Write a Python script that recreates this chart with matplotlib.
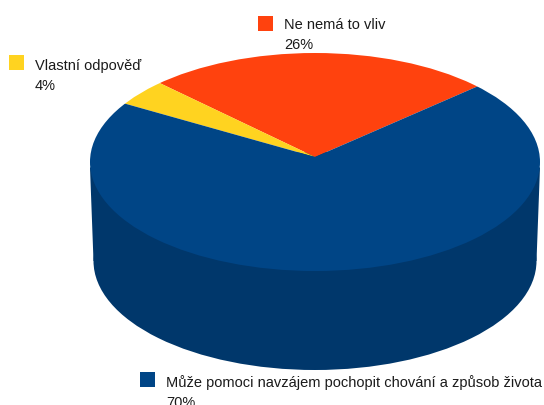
import matplotlib
matplotlib.use("Agg")
import matplotlib.pyplot as plt
from matplotlib.patches import Ellipse, Rectangle

labels = ["Ne nemá to vliv", "Vlastní odpověď", "Může pomoci navzájem pochopit chování a způsob života"]
values = [26, 4, 70]
colors = ["#ff420e", "#ffd320", "#004586"]
side_color = "#00376b"
pct_labels = ["26%", "4%", "70%"]

plt.rcParams['font.family'] = ['Liberation Sans', 'DejaVu Sans']

fig = plt.figure(figsize=(5.44, 4.05), dpi=100)

# pie axes: 1 unit = 225 px across, 109 px up, origin on the apex
rx, ry = 225.0, 109.0
ax0, ay0 = 315.0, 157.0
ax = fig.add_axes([0, 0, 1, 1])
wedges, _ = ax.pie(values, colors=colors, startangle=41.9, radius=1.4, center=(0, 0))
ax.set_aspect('auto')
ax.set_xlim(-ax0 / rx, (544 - ax0) / rx)
ax.set_ylim(-(405 - ay0) / ry, ay0 / ry)
ax.axis('off')

# top face, the wedges are cut by the rim ellipse
rim_y = -5 / ry
rim = Ellipse((0, rim_y), 2, 2, facecolor='none', edgecolor='none', transform=ax.transData)
ax.add_patch(rim)
for w in wedges:
    w.set_clip_on(True)
    w.set_clip_path(rim)
    w.set_zorder(3)

# side wall, slightly narrower at the bottom (perspective)
depth = 99 / ry
low = 221.5 / rx
ax.add_patch(Ellipse((0, rim_y - depth), 2 * low, 2, facecolor=side_color, edgecolor='none', zorder=1))
ax.fill([-1, 1, low, -low], [rim_y - 0.05, rim_y - 0.05, rim_y - depth, rim_y - depth],
        color=side_color, lw=0, zorder=1)

# legend squares and labels, placed in pixels
def px(x, y):
    return x / 544, 1 - y / 405

square_pos = [(258, 16), (9, 55), (140, 372)]
text_pos = [(284, 29), (35, 70), (166, 387)]
for i in range(3):
    sx, sy = square_pos[i]
    fig.add_artist(Rectangle(px(sx, sy + 15), 15 / 544, 15 / 405, facecolor=colors[i], edgecolor='none',
                             transform=fig.transFigure))
    tx, ty = text_pos[i]
    x, y = px(tx, ty)
    fig.text(x, y, labels[i], fontsize=10.5, color='#1a1a1a', va='baseline', ha='left')
    x, y = px(tx, ty + 20)
    fig.text(x, y, pct_labels[i], fontsize=10.5, color='#1a1a1a', va='baseline', ha='left')

fig.savefig("out.png", dpi=100)
